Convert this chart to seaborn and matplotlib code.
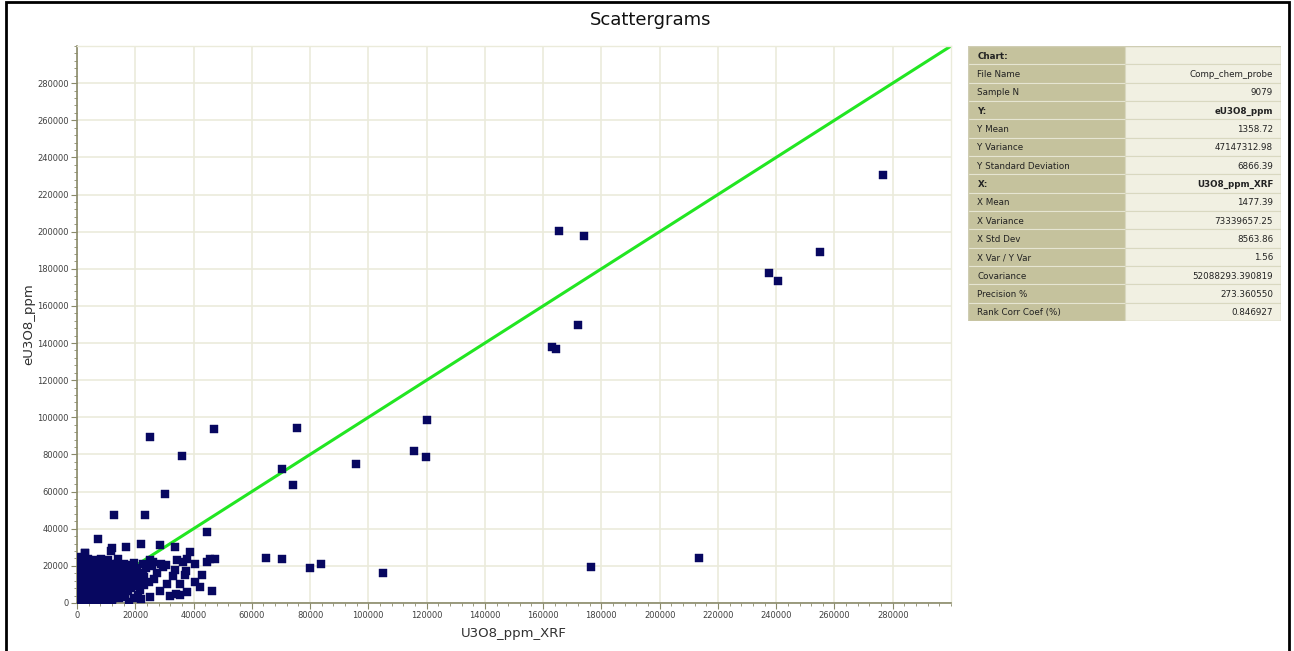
import numpy as np
import pandas as pd
import matplotlib
matplotlib.use("Agg")
import matplotlib.pyplot as plt
from matplotlib.patches import Rectangle
from matplotlib.ticker import MultipleLocator
import seaborn as sns

# ── data ─────────────────────────────────────────────────────
# dense cluster near the origin (U3O8_ppm_XRF, eU3O8_ppm)
cluster_x = [
    500, 2500, 4500, 6500, 8500, 10500, 12000, 18000,
    800, 2800, 5000, 7200, 9300, 11200, 13400, 16500,
    600, 2600, 4700, 6900, 9000, 11000, 13100, 15200, 17400,
    900, 3000, 5200, 7400, 9600, 11700, 13800, 15900, 18100, 20500,
    700, 2900, 5100, 7300, 9500, 11600, 13700, 15800, 17900, 19900, 22300,
    500, 2700, 4900, 7100, 9300, 11500, 13600, 15700, 17800, 20000, 22600,
    800, 3000, 5200, 7400, 9600, 11800, 14000, 16100, 18300, 20600, 23800,
    600, 2800, 5000, 7200, 9400, 11600, 13800, 16000, 18200, 19500,
    1200, 3800, 6000, 8400, 10500, 14100, 1300, 2800,
    21500, 23000, 24600, 26400, 23100, 27500, 25800, 28800, 29600, 30500,
    26000, 22800, 24900, 21000, 19500, 22000, 25100, 28400, 31800, 34000,
    35500, 37900, 46400, 42300, 40400, 42900, 30900, 35500, 32800, 37200,
    37400, 33700, 34400, 37800, 36500, 40400, 44500, 45800, 47500, 38900,
    33600, 28400, 21900, 16900, 11900, 11500, 7100, 2700,
    # in-between fill of the solid blob
    1600, 3700, 5800, 7900, 10000, 12100, 14300,
    1700, 3900, 6000, 8100, 10200, 12300, 14400, 16400,
    1500, 3600, 5700, 7800, 9900, 12000, 14200, 16300, 18600,
    1800, 4000, 6200, 8300, 10400, 12500, 14600, 16700, 18800, 21200,
    1600, 3800, 6000, 8200, 10300, 12400, 14600, 16800, 19000, 21400,
    1900, 4100, 6300, 8500, 10700, 12900, 15100, 17200, 19300,
    2000, 4200, 6400, 8600, 10800, 12800, 15000, 17000,
    300, 300, 300, 300, 300, 300, 300,
]
cluster_y = [
    1000, 800, 1200, 900, 1100, 800, 1300, 500,
    3500, 3300, 3700, 3400, 3600, 3200, 3800, 3500,
    6500, 6300, 6700, 6400, 6600, 6200, 6800, 6500, 6300,
    9500, 9700, 9300, 9600, 9400, 9800, 9500, 9200, 9600, 9400,
    12500, 12300, 12700, 12400, 12600, 12200, 12800, 12500, 12300, 12600, 12100,
    15500, 15700, 15300, 15600, 15400, 15800, 15500, 15200, 15600, 15400, 15900,
    18500, 18300, 18700, 18400, 18600, 18200, 18800, 18500, 18300, 18600, 18900,
    21000, 21200, 20800, 21300, 21100, 20900, 21200, 21000, 20700, 21400,
    23500, 23800, 23300, 23600, 23400, 23700, 24600, 27000,
    6800, 9500, 11200, 13100, 14200, 16000, 19800, 21200, 19400, 20600,
    22000, 21000, 23000, 4200, 2600, 2000, 3400, 6300, 3800, 4800,
    4100, 5800, 6300, 8800, 11300, 15200, 10100, 10400, 14500, 15300,
    17200, 17800, 23000, 23900, 22100, 20800, 22200, 23500, 23900, 27300,
    30000, 31100, 31900, 30300, 29800, 28200, 34300, 26900,
    2200, 2000, 2400, 2100, 2300, 2000, 2500,
    5000, 4800, 5200, 4900, 5100, 4700, 5300, 5000,
    8000, 7800, 8200, 7900, 8100, 7700, 8300, 8000, 7900,
    11000, 10800, 11200, 10900, 11100, 10700, 11300, 11000, 10800, 11100,
    14000, 13800, 14200, 13900, 14100, 13700, 14300, 14000, 13800, 14100,
    17000, 16800, 17200, 16900, 17100, 16700, 17300, 17000, 16800,
    19800, 20000, 19600, 19900, 19700, 20100, 19800, 19600,
    4000, 7500, 10500, 13500, 16500, 19500, 22500,
]

# scattered samples away from the cluster
outlier_x = [
    276700, 255000, 237600, 240700, 165500, 174000, 172000, 163100, 164400,
    120300, 115800, 119700, 95900, 70500, 75600, 74000, 64900, 70500,
    80000, 83900, 104900, 176500, 213500, 47000, 36000, 25100, 30200,
    12700, 23300, 44500,
]
outlier_y = [
    230500, 189000, 177700, 173400, 200300, 197600, 149700, 137900, 136800,
    98500, 81900, 78800, 74900, 72000, 94200, 63700, 24400, 23900,
    19000, 20800, 16200, 19400, 24200, 93700, 79200, 89400, 58700,
    47400, 47400, 38200,
]

# 1:1 reference line
line_x = [0, 300000]
line_y = [0, 300000]

# statistics panel
stat_labels = [
    "Chart:", "File Name", "Sample N", "Y:", "Y Mean", "Y Variance",
    "Y Standard Deviation", "X:", "X Mean", "X Variance", "X Std Dev",
    "X Var / Y Var", "Covariance", "Precision %", "Rank Corr Coef (%)",
]
stat_values = [
    "", "Comp_chem_probe", "9079", "eU3O8_ppm", "1358.72", "47147312.98",
    "6866.39", "U3O8_ppm_XRF", "1477.39", "73339657.25", "8563.86",
    "1.56", "52088293.390819", "273.360550", "0.846927",
]
bold_rows = {"Chart:", "Y:", "X:"}

df = pd.DataFrame({
    "U3O8_ppm_XRF": cluster_x + outlier_x,
    "eU3O8_ppm": cluster_y + outlier_y,
})

# ── figure ──────────────────────────────────────────────────
sns.set_style("white")
plt.rcParams["font.family"] = ["DejaVu Sans"]

fig = plt.figure(figsize=(12.94, 6.51), dpi=100)
fig.patch.set_facecolor("white")

ax = fig.add_axes([77 / 1294, 48 / 651, 874 / 1294, 557 / 651])

grid_col = "#ebebdb"
ax.set_xlim(0, 300000)
ax.set_ylim(0, 300000)
ax.xaxis.set_minor_locator(MultipleLocator(4000))
ax.yaxis.set_minor_locator(MultipleLocator(4000))
ax.set_axisbelow(True)

sns.lineplot(x=line_x, y=line_y, color="#22e622", lw=2.2, ax=ax, zorder=2)
sns.scatterplot(data=df, x="U3O8_ppm_XRF", y="eU3O8_ppm", marker="s",
                s=30, color="#070760", edgecolor="#070760", linewidth=0.3,
                ax=ax, zorder=3)

# tick labels skip the 300000 end
ticks = list(range(0, 300000, 20000))
ax.set_xticks(ticks)
ax.set_yticks(ticks)
ax.set_xticklabels([str(v) for v in ticks])
ax.set_yticklabels([str(v) for v in ticks])
ax.grid(True, which="major", color=grid_col, lw=1.2)
ax.tick_params(axis="both", which="major", length=4, width=0.8,
               color="#8a8a6a", labelsize=6, labelcolor="#404040", pad=2)
ax.tick_params(axis="both", which="minor", length=2, width=0.6,
               color="#8a8a6a")
ax.tick_params(axis="x", which="both", bottom=True)
ax.tick_params(axis="y", which="both", left=True)

for side in ["left", "bottom"]:
    ax.spines[side].set_color("#8a8a6a")
    ax.spines[side].set_linewidth(1.2)
for side in ["top", "right"]:
    ax.spines[side].set_color(grid_col)
    ax.spines[side].set_linewidth(1.0)

ax.set_xlabel("U3O8_ppm_XRF", fontsize=9.5, color="#303030")
ax.set_ylabel("eU3O8_ppm", fontsize=9.5, color="#303030")
ax.xaxis.set_label_coords(0.5, -0.043)
ax.yaxis.set_label_coords(-0.048, 0.5)

fig.text(651 / 1294, 1 - 20 / 651, "Scattergrams", ha="center",
         va="center", fontsize=13, color="#111111")

# ── statistics table ────────────────────────────────────────
tax = fig.add_axes([968 / 1294, 1 - 321 / 651, 313 / 1294, 275 / 651])
n = len(stat_labels)
tax.set_xlim(0, 1)
tax.set_ylim(n, 0)
tax.axis("off")
split = 157 / 313
for i, (lab, val) in enumerate(zip(stat_labels, stat_values)):
    tax.add_patch(Rectangle((0, i), split, 1, fc="#c5c29d",
                            ec="#e6e5d2", lw=0.8))
    tax.add_patch(Rectangle((split, i), 1 - split, 1, fc="#f1f0e2",
                            ec="#d9d8c0", lw=0.8))
    weight = "bold" if lab in bold_rows else "normal"
    tax.text(0.03, i + 0.55, lab, fontsize=6.3, va="center",
             color="#222222", fontweight=weight)
    tax.text(0.975, i + 0.55, val, fontsize=6.3, va="center", ha="right",
             color="#222222", fontweight=weight)
tax.add_patch(Rectangle((0, 0), 1, n, fill=False, ec="#cfcdb3", lw=1))

# outer frame of the window
fig.patches.append(Rectangle((6 / 1294, -0.01), 1283 / 1294, 1.0 - 2 / 651 + 0.01,
                             transform=fig.transFigure, fill=False,
                             ec="black", lw=2))

fig.savefig("out.png", dpi=100)
